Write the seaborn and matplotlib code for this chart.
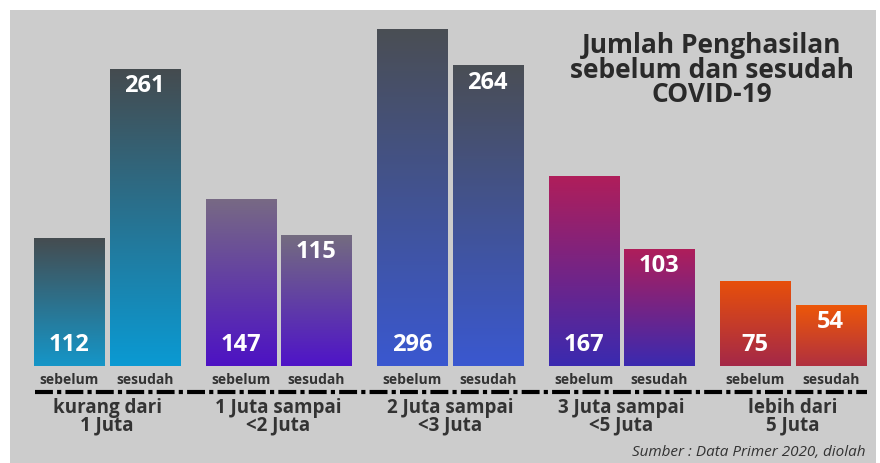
import numpy as np
import pandas as pd
import matplotlib.pyplot as plt
import seaborn as sns
from matplotlib.colors import to_rgb

# data
kategori = ['kurang dari\n1 Juta', '1 Juta sampai\n<2 Juta', '2 Juta sampai\n<3 Juta',
            '3 Juta sampai\n<5 Juta', 'lebih dari\n5 Juta']
waktu = ['sebelum', 'sesudah']
sebelum = [112, 147, 296, 167, 75]
sesudah = [261, 115, 264, 103, 54]

# warna gradien (atas, bawah) per kelompok
warna_sebelum = [('#454c50', '#1596c8'), ('#786a84', '#4d12c4'), ('#4a4e54', '#3a58d0'),
                 ('#b01e5a', '#3a2ab0'), ('#e8500a', '#a42848')]
warna_sesudah = [('#454b4f', '#0a9ad3'), ('#746c80', '#4f14c8'), ('#4a4e55', '#3a58d0'),
                 ('#b01e5a', '#3a2ab0'), ('#ee5808', '#b03040')]

df = pd.DataFrame({
    'Kategori': kategori * 2,
    'Waktu': [waktu[0]] * 5 + [waktu[1]] * 5,
    'Jumlah': sebelum + sesudah,
})

sns.set_style('white')
plt.rcParams['font.family'] = ['Open Sans', 'DejaVu Sans']

fig = plt.figure(figsize=(8.8, 4.63), dpi=100, facecolor='white')
ax = fig.add_axes([10 / 880, 0, 866 / 880, 453 / 463])
ax.set_facecolor('#cccccc')

sns.barplot(data=df, x='Kategori', y='Jumlah', hue='Waktu', order=kategori,
            hue_order=waktu, width=0.88, gap=0.07, legend=False, ax=ax,
            palette=['#888888', '#888888'], edgecolor='none')

txt = '#333333'
grad = np.linspace(0, 1, 256)[:, None]
for cont, warna, posisi in zip(ax.containers, [warna_sebelum, warna_sesudah], ['bawah', 'atas']):
    for bar, (c_top, c_bot) in zip(cont, warna):
        x, w, h = bar.get_x(), bar.get_width(), bar.get_height()
        top, bot = np.array(to_rgb(c_top)), np.array(to_rgb(c_bot))
        img = top[None, None, :] * (1 - grad[..., None]) + bot[None, None, :] * grad[..., None]
        bar.set_facecolor('none')
        im = ax.imshow(img, extent=[x, x + w, 0, h], origin='upper', aspect='auto', zorder=2)
        im.set_clip_path(bar)
        xc = x + w / 2
        if posisi == 'bawah':
            ax.annotate(f'{int(h)}', (xc, 0), xytext=(0, 15), textcoords='offset points',
                        ha='center', va='center', color='white', fontsize=17,
                        fontweight='bold', zorder=3)
        else:
            ax.annotate(f'{int(h)}', (xc, h), xytext=(0, -12.5), textcoords='offset points',
                        ha='center', va='center', color='white', fontsize=17,
                        fontweight='bold', zorder=3)
        lbl = waktu[0] if posisi == 'bawah' else waktu[1]
        ax.annotate(lbl, (xc, 0), xytext=(0, -10), textcoords='offset points',
                    ha='center', va='center', color=txt, fontsize=10, fontweight='bold')

for i, k in enumerate(kategori):
    ax.annotate(k, (i, 0), xytext=(0, -36.5), textcoords='offset points', ha='center',
                va='center', color=txt, fontsize=13.5, fontweight='bold', linespacing=0.8)

ax.set_xlim(-0.566, 4.484)
ax.set_ylim(-85.2, 312.7)

# garis putus-putus di bawah label
ax.hlines(-22.8, -0.42, 4.43, color='black', lw=3,
          linestyle=(0, (4.3, 1.0, 1.0, 1.0)), zorder=2)

ax.set_xticks([])
ax.set_yticks([])
ax.set_xlabel('')
ax.set_ylabel('')
sns.despine(ax=ax, left=True, bottom=True)

fig.text(712 / 880, 1 - 70 / 463, 'Jumlah Penghasilan\nsebelum dan sesudah\nCOVID-19',
         ha='center', va='center', fontsize=19, fontweight='bold', color='#2a2a2a',
         linespacing=0.88)
fig.text(865 / 880, 1 - 452 / 463, 'Sumber : Data Primer 2020, diolah', ha='right',
         va='center', fontsize=11, fontstyle='italic', color=txt)

fig.savefig('out.png', dpi=100, facecolor='white')
